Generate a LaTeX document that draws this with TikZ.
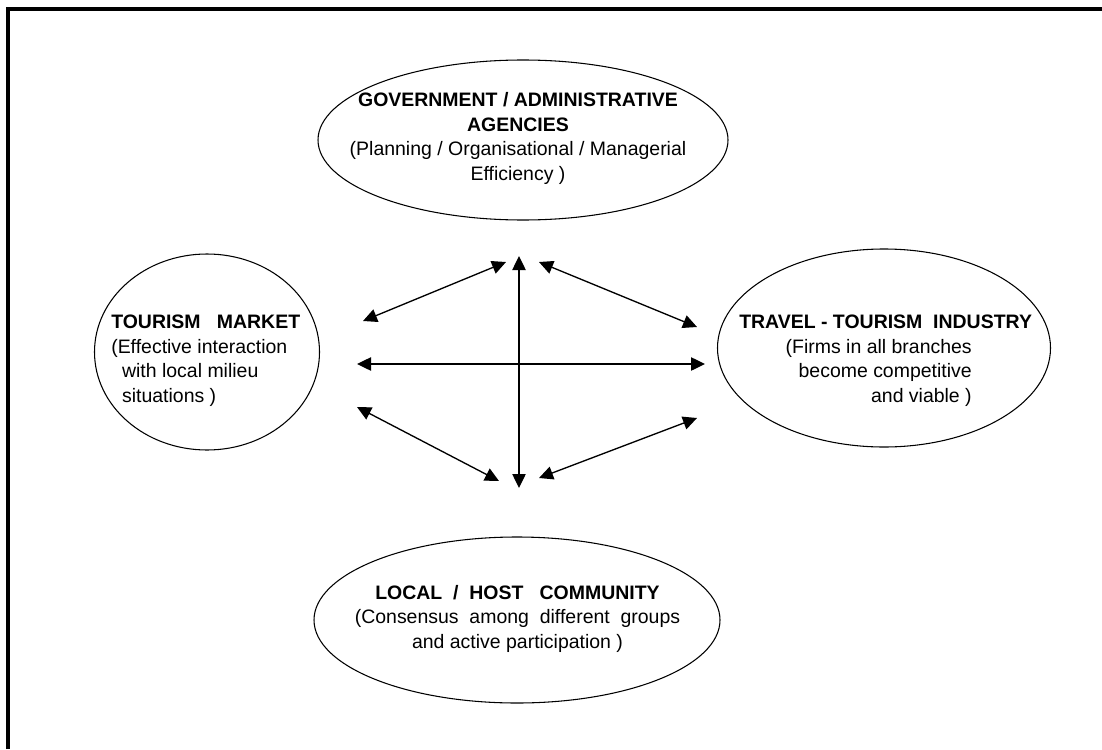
\documentclass[tikz,border=0pt]{standalone}
\usepackage{fontspec}
\setmainfont{Liberation Sans}
\usetikzlibrary{shapes.geometric,arrows.meta}

\begin{document}
\begin{tikzpicture}[x=0.75pt,y=-0.75pt,
  oval/.style={draw,ellipse,line width=0.8pt,inner sep=0pt},
  label text/.style={inner sep=0pt,font=\fontsize{14.6pt}{18.3pt}\selectfont},
  link/.style={line width=1pt,{Triangle[length=10.5pt,width=10pt]}-{Triangle[length=10.5pt,width=10pt]}},
  frame/.style={line width=3pt}
]
\useasboundingbox (0,0) rectangle (1102,749);
\fill[white] (0,0) rectangle (1102,749);

% outer frame (top and left edges)
\draw[frame] (8,749) -- (8,9.5) -- (1102,9.5);

% the four actors
\node[oval,minimum width=307.5pt,minimum height=120pt] (gov) at (523,140) {};
\node[oval,minimum width=168.75pt,minimum height=147pt] (mkt) at (207,352) {};
\node[oval,minimum width=249.75pt,minimum height=148.5pt] (ind) at (884,348) {};
\node[oval,minimum width=304.5pt,minimum height=124.5pt] (com) at (517,620) {};

% texts (base anchor sits on the last line)
\node[label text,align=center,anchor=base] (govtxt) at (518,180)
  {\textbf{GOVERNMENT / ADMINISTRATIVE}\\ \textbf{AGENCIES}\\
   (Planning / Organisational / Managerial\\ Efficiency )};

\node[label text,align=left,anchor=base west] (mkttxt) at (111,402)
  {\textbf{TOURISM~~~MARKET}\\ (Effective interaction\\ ~~with local milieu\\ ~~situations )};

\node[label text,anchor=base west] (indtitle) at (739,328)
  {\textbf{TRAVEL - TOURISM~~INDUSTRY}};
\node[label text,align=right,anchor=base east] (indtxt) at (972,402)
  {(Firms in all branches\\ become competitive\\ and viable )};

\node[label text,align=center,anchor=base] (comtxt) at (517.5,648)
  {\textbf{LOCAL~~/~~HOST~~~COMMUNITY}\\ (Consensus~~among~~different~~groups\\ and active participation )};

% arrow end points
\coordinate (vT) at (519,256);
\coordinate (vB) at (519,488);
\coordinate (hL) at (357,364);
\coordinate (hR) at (705,364);
\coordinate (ulA) at (363,321);
\coordinate (ulB) at (506,262);
\coordinate (urA) at (539,262);
\coordinate (urB) at (697,327);
\coordinate (llA) at (357,407);
\coordinate (llB) at (499,481);
\coordinate (lrA) at (539,478);
\coordinate (lrB) at (697,418);

% two-way relations
\draw[link] (vT) -- (vB);
\draw[link] (hL) -- (hR);
\draw[link] (ulA) -- (ulB);
\draw[link] (urA) -- (urB);
\draw[link] (llA) -- (llB);
\draw[link] (lrA) -- (lrB);
\end{tikzpicture}
\end{document}
